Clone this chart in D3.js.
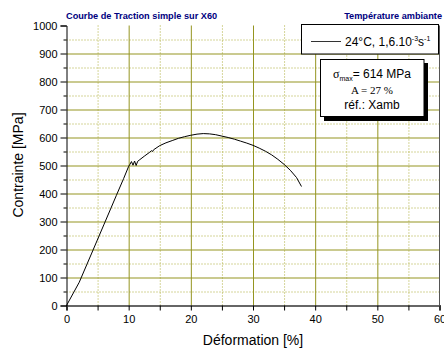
<!DOCTYPE html>
<html>
<head>
<meta charset="utf-8">
<script src="https://cdn.jsdelivr.net/npm/d3@7"></script>
<style>
  html, body { margin: 0; padding: 0; background: #fff; }
  svg { display: block; font-family: "Liberation Sans", Arial, sans-serif; }
</style>
</head>
<body>
<svg id="chart" width="444" height="350"></svg>
<script>
// Tensile test: strain (%) vs. stress (MPa)
const strain = [0, 2.05, 4, 6, 8, 9.2, 10, 10.2, 10.45, 10.7, 10.95, 11.2, 11.45, 11.8, 12.5, 13.3, 13.7, 13.85, 14, 15, 16, 17, 18, 19, 20, 21, 22, 23, 24, 25, 26, 27, 28, 29, 30, 31, 32, 33, 34, 35, 36, 37, 37.8];
const stress = [0, 83, 184, 288, 392, 454, 497, 504, 514, 501, 516, 500, 515, 521, 533, 546, 553, 550, 556, 571, 581, 589, 597, 603, 608, 612, 614, 613, 610, 605, 600, 594, 587, 580, 572, 562, 551, 538, 522, 504, 483, 457, 425];

const xTicks = [0, 10, 20, 30, 40, 50, 60];
const yTicks = [0, 100, 200, 300, 400, 500, 600, 700, 800, 900, 1000];
const xMinor = [5, 15, 25, 35, 45, 55];
const yMinor = [50, 150, 250, 350, 450, 550, 650, 750, 850, 950];

const chartTitle = "Courbe de Traction simple sur X60";
const conditionText = "Température ambiante";
const xLabel = "Déformation [%]";
const yLabel = "Contrainte [MPa]";

const svg = d3.select("#chart");
const x = d3.scaleLinear().domain([0, 60]).range([66.5, 439.5]);
const y = d3.scaleLinear().domain([0, 1000]).range([305.5, 25.5]);
const plotW = x(60) - x(0);
const plotH = y(0) - y(1000);

const olive = "#959520";
const oliveMinor = "#abab35";

// grid drawn as full-length axis ticks
function styleGrid(g, color, dash) {
  g.select(".domain").remove();
  g.selectAll("text").remove();
  g.selectAll("line").attr("stroke", color).attr("stroke-width", 1)
    .attr("stroke-dasharray", dash);
}
svg.append("g").attr("transform", `translate(${x(0)},0)`)
  .call(d3.axisLeft(y).tickValues(yMinor).tickSize(-plotW))
  .call(styleGrid, oliveMinor, "1,2");
svg.append("g").attr("transform", `translate(0,${y(0)})`)
  .call(d3.axisBottom(x).tickValues(xMinor).tickSize(-plotH))
  .call(styleGrid, oliveMinor, "1,2");
svg.append("g").attr("transform", `translate(${x(0)},0)`)
  .call(d3.axisLeft(y).tickValues(yTicks.filter(d => d > 0 && d < 1000)).tickSize(-plotW))
  .call(styleGrid, olive, null);
svg.append("g").attr("transform", `translate(0,${y(0)})`)
  .call(d3.axisBottom(x).tickValues(xTicks.filter(d => d > 0 && d < 60)).tickSize(-plotH))
  .call(styleGrid, olive, null);

// right frame
svg.append("line").attr("x1", x(60)).attr("x2", x(60)).attr("y1", y(0)).attr("y2", y(1000))
  .attr("stroke", "#555").attr("stroke-width", 1);

// axes
const xAxis = svg.append("g").attr("transform", `translate(0,${y(0)})`)
  .call(d3.axisBottom(x).tickValues(xTicks).tickSize(5).tickPadding(5).tickFormat(d3.format("d")));
const yAxis = svg.append("g").attr("transform", `translate(${x(0)},0)`)
  .call(d3.axisLeft(y).tickValues(yTicks).tickSize(6).tickPadding(3).tickFormat(d3.format("d")));
svg.append("g").attr("transform", `translate(0,${y(0)})`)
  .call(d3.axisBottom(x).tickValues(xMinor).tickSize(5).tickFormat(""))
  .call(g => g.select(".domain").remove())
  .selectAll("line").attr("stroke", "#000");
svg.append("g").attr("transform", `translate(${x(0)},0)`)
  .call(d3.axisLeft(y).tickValues(yMinor).tickSize(3).tickFormat(""))
  .call(g => g.select(".domain").remove())
  .selectAll("line").attr("stroke", "#000");

[xAxis, yAxis].forEach(a => {
  a.selectAll(".tick text").attr("font-size", 11).attr("fill", "#000")
    .attr("font-family", "Liberation Sans, Arial, sans-serif");
  a.selectAll(".tick line").attr("stroke", "#000");
});
yAxis.select(".domain").attr("stroke", "#000");
xAxis.select(".domain").attr("stroke", "#666").attr("stroke-width", 2);

// curve
const line = d3.line().x(d => x(d[0])).y(d => y(d[1]));
svg.append("path").datum(d3.zip(strain, stress))
  .attr("d", line).attr("fill", "none").attr("stroke", "#000").attr("stroke-width", 1);

// titles
svg.append("text").attr("x", 66).attr("y", 19).attr("font-size", 9.2).attr("font-weight", "bold")
  .attr("fill", "#000080").text(chartTitle);
svg.append("text").attr("x", 442).attr("y", 19).attr("font-size", 9.2).attr("font-weight", "bold")
  .attr("text-anchor", "end").attr("fill", "#000080").text(conditionText);
svg.append("text").attr("x", 253).attr("y", 345).attr("font-size", 14).attr("text-anchor", "middle")
  .text(xLabel);
svg.append("text").attr("transform", "translate(23,165) rotate(-90)").attr("font-size", 14)
  .attr("text-anchor", "middle").text(yLabel);

// legend
const lg = svg.append("g");
lg.append("rect").attr("x", 301.5).attr("y", 24.5).attr("width", 137).attr("height", 29.5)
  .attr("fill", "#fff").attr("stroke", "#000").attr("stroke-width", 1);
lg.append("line").attr("x1", 311).attr("x2", 341).attr("y1", 41.5).attr("y2", 41.5)
  .attr("stroke", "#333").attr("stroke-width", 1);
const lt = lg.append("text").attr("x", 345).attr("y", 45.5).attr("font-size", 12);
lt.append("tspan").text("24°C, 1,6.10");
lt.append("tspan").attr("font-size", 7).attr("dy", -5).text("-3");
lt.append("tspan").attr("dy", 5).text("s");
lt.append("tspan").attr("font-size", 7).attr("dy", -5).text("-1");

// result box with shadow
const rb = svg.append("g");
rb.append("rect").attr("x", 324).attr("y", 63).attr("width", 104).attr("height", 58).attr("fill", "#000");
rb.append("rect").attr("x", 320.5).attr("y", 59.5).attr("width", 103.5).attr("height", 57)
  .attr("fill", "#fff").attr("stroke", "#000").attr("stroke-width", 1);
const t1 = rb.append("text").attr("x", 372).attr("y", 78).attr("text-anchor", "middle").attr("font-size", 12);
t1.append("tspan").attr("font-family", "Liberation Serif, serif").text("σ");
t1.append("tspan").attr("font-size", 7).attr("dy", 3).text("max");
t1.append("tspan").attr("dy", -3).text("= 614 MPa");
rb.append("text").attr("x", 372).attr("y", 94).attr("text-anchor", "middle").attr("font-size", 11)
  .attr("font-family", "Liberation Serif, serif").text("A = 27 %");
rb.append("text").attr("x", 372).attr("y", 109).attr("text-anchor", "middle").attr("font-size", 12)
  .text("réf.: Xamb");
</script>
</body>
</html>
